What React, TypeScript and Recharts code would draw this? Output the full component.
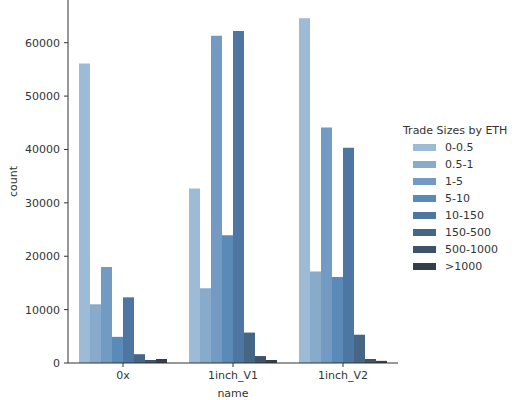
import { BarChart, Bar, XAxis, YAxis, Legend } from "recharts";

const names = ["0x", "1inch_V1", "1inch_V2"];
const tradeSizes = ["0-0.5", "0.5-1", "1-5", "5-10", "10-150", "150-500", "500-1000", ">1000"];
const sizeColors = ["#9dbbd6", "#88aacb", "#739ac2", "#5a8ab8", "#4d77a2", "#466685", "#3e5369", "#343f4c"];

// counts per exchange, one array per trade size bucket
const count0to05 = [56100, 32700, 64600];
const count05to1 = [11000, 14000, 17150];
const count1to5 = [18000, 61300, 44100];
const count5to10 = [4900, 23950, 16100];
const count10to150 = [12300, 62200, 40300];
const count150to500 = [1650, 5700, 5300];
const count500to1000 = [560, 1300, 750];
const countOver1000 = [750, 560, 400];

const countTicks = [0, 10000, 20000, 30000, 40000, 50000, 60000];

const seriesValues = [
  count0to05,
  count05to1,
  count1to5,
  count5to10,
  count10to150,
  count150to500,
  count500to1000,
  countOver1000,
];

const data = names.map((name, i) => {
  const row: Record<string, string | number> = { name };
  tradeSizes.forEach((size, j) => {
    row[size] = seriesValues[j][i];
  });
  return row;
});

const font = "'DejaVu Sans', sans-serif";
const textColor = "#333";
const fontSize = 11;

function SizeLegend() {
  return (
    <div style={{ fontFamily: font, fontSize, color: textColor }}>
      <div style={{ height: 17, lineHeight: "17px", whiteSpace: "nowrap" }}>Trade Sizes by ETH</div>
      {tradeSizes.map((size, i) => (
        <div key={size} style={{ display: "flex", alignItems: "center", height: 17 }}>
          <span
            style={{
              display: "inline-block",
              width: 23,
              height: 7,
              marginLeft: 10,
              marginRight: 9,
              background: sizeColors[i],
            }}
          />
          <span>{size}</span>
        </div>
      ))}
    </div>
  );
}

export default function App() {
  return (
    <div style={{ position: "absolute", left: 0, top: 0, background: "#fff" }}>
      <BarChart
        width={520}
        height={400}
        data={data}
        margin={{ top: 0, right: 122, bottom: 0, left: 0 }}
        barCategoryGap={11}
        barGap={0}
      >
        <XAxis
          dataKey="name"
          height={37}
          tickSize={4}
          tickMargin={4}
          stroke={textColor}
          tick={{ fill: textColor, fontSize, fontFamily: font }}
          label={{
            value: "name",
            position: "insideBottom",
            offset: 3,
            fill: textColor,
            fontSize,
            fontFamily: font,
          }}
        />
        <YAxis
          width={68}
          domain={[0, 68000]}
          ticks={countTicks}
          tickSize={4}
          tickMargin={4}
          stroke={textColor}
          tick={{ fill: textColor, fontSize, fontFamily: font }}
          label={{
            value: "count",
            angle: -90,
            position: "insideLeft",
            offset: 13,
            fill: textColor,
            fontSize,
            fontFamily: font,
            style: { textAnchor: "middle" },
          }}
        />
        <Legend
          layout="vertical"
          align="center"
          verticalAlign="middle"
          content={() => <SizeLegend />}
          wrapperStyle={{ left: 403, top: 122, width: 117 }}
        />
        {tradeSizes.map((size, i) => (
          <Bar key={size} dataKey={size} fill={sizeColors[i]} isAnimationActive={false} />
        ))}
      </BarChart>
    </div>
  );
}
